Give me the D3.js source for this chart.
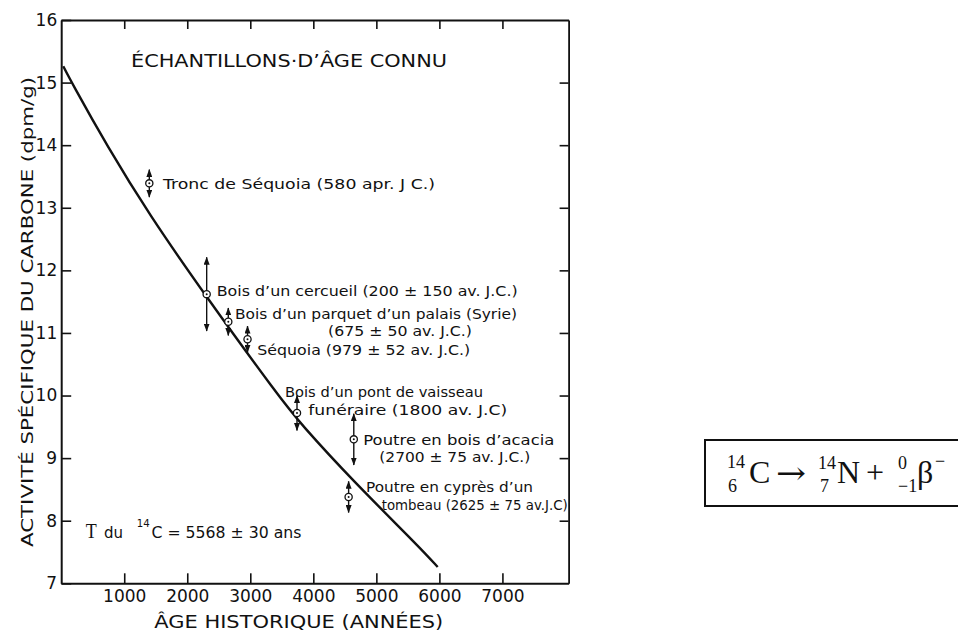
<!DOCTYPE html>
<html>
<head>
<meta charset="utf-8">
<script src="https://cdn.jsdelivr.net/npm/d3@7/dist/d3.min.js"></script>
<style>
  html, body { margin: 0; padding: 0; background: #fff; }
  svg { display: block; }
  text { fill: #111; }
</style>
</head>
<body>
<div id="chart"></div>
<script>
// ---------------- data ----------------
const sampleNames = ["Tronc de Séquoia", "Bois d'un cercueil", "Bois d'un parquet d'un palais",
  "Séquoia", "Bois d'un pont de vaisseau funéraire", "Poutre en bois d'acacia", "Poutre en cyprès d'un tombeau"];
const sampleAge = [1398, 2308, 2651, 2956, 3741, 4642, 4560];
const sampleActivity = [13.39, 11.62, 11.18, 10.90, 9.72, 9.30, 8.38];
const sampleError = [0.22, 0.59, 0.22, 0.21, 0.28, 0.41, 0.25];

const curveAge = [33, 155, 743, 1377, 2297, 3471, 3789, 4634, 5693, 5973];
const curveActivity = [15.26, 15.02, 13.96, 12.92, 11.58, 9.96, 9.56, 8.63, 7.57, 7.26];

const xTickValues = [1000, 2000, 3000, 4000, 5000, 6000, 7000];
const yTickValues = [7, 8, 9, 10, 11, 12, 13, 14, 15, 16];

const titleText = "ÉCHANTILLONS·D’ÂGE  CONNU";
const yLabel = "ACTIVITÉ SPÉCIFIQUE DU CARBONE (dpm/g)";
const xLabel = "ÂGE HISTORIQUE (ANNÉES)";

// ---------------- layout ----------------
const W = 958, H = 632;
const svg = d3.select("#chart").append("svg").attr("width", W).attr("height", H);
svg.append("rect").attr("width", W).attr("height", H).attr("fill", "#fff");

const x = d3.scaleLinear().domain([0, 8050]).range([61.2, 568.6]);
const y = d3.scaleLinear().domain([7, 16]).range([583.3, 20]);

const SANS = "'DejaVu Sans', 'Liberation Sans', sans-serif";
const SERIF = "'Liberation Serif', 'DejaVu Serif', serif";

// arrow marker
const defs = svg.append("defs");
defs.append("marker").attr("id", "arr")
  .attr("markerUnits", "userSpaceOnUse")
  .attr("viewBox", "0 0 8 6").attr("refX", 7.5).attr("refY", 3)
  .attr("markerWidth", 8).attr("markerHeight", 6)
  .attr("orient", "auto")
  .append("path").attr("d", "M0,0 L8,3 L0,6 Z").attr("fill", "#111");

// ---------------- axes ----------------
function styleAxis(g, sw) {
  g.select(".domain").attr("stroke", "#111").attr("stroke-width", sw);
  g.selectAll(".tick line").attr("stroke", "#111").attr("stroke-width", 1.6);
  g.selectAll(".tick text").attr("fill", "#111").attr("font-family", SANS);
}

const gx = svg.append("g").attr("transform", `translate(0,${y(7)})`)
  .call(d3.axisBottom(x).tickValues(xTickValues).tickFormat(d3.format("d"))
    .tickSizeInner(-10).tickSizeOuter(0).tickPadding(7));
styleAxis(gx, 2);
gx.selectAll(".tick text").attr("font-size", 17);

const gxTop = svg.append("g").attr("transform", `translate(0,${y(16)})`)
  .call(d3.axisTop(x).tickValues(xTickValues).tickFormat("")
    .tickSizeInner(-9).tickSizeOuter(0));
styleAxis(gxTop, 1.8);

const gy = svg.append("g").attr("transform", `translate(${x(0)},0)`)
  .call(d3.axisLeft(y).tickValues(yTickValues).tickFormat(d3.format("d"))
    .tickSizeInner(-10).tickSizeOuter(0).tickPadding(4));
styleAxis(gy, 2);
gy.selectAll(".tick text").attr("font-size", 17);

const gyR = svg.append("g").attr("transform", `translate(${x(8050)},0)`)
  .call(d3.axisRight(y).tickValues(yTickValues.slice(1, -1)).tickFormat("")
    .tickSizeInner(-9).tickSizeOuter(0));
styleAxis(gyR, 1.8);

// ---------------- curve ----------------
const curvePts = curveAge.map((a, i) => [a, curveActivity[i]]);
svg.append("path")
  .attr("d", d3.line().x(d => x(d[0])).y(d => y(d[1])).curve(d3.curveBasis)(curvePts))
  .attr("fill", "none").attr("stroke", "#111").attr("stroke-width", 2.4);

// ---------------- samples ----------------
const samples = sampleNames.map((n, i) => ({ name: n, age: sampleAge[i], act: sampleActivity[i], err: sampleError[i] }));
const R = 3.6;
const gs = svg.append("g");
samples.forEach(s => {
  const cx = x(s.age), cy = y(s.act);
  gs.append("line").attr("x1", cx).attr("x2", cx).attr("y1", cy - R).attr("y2", y(s.act + s.err))
    .attr("stroke", "#111").attr("stroke-width", 1.4).attr("marker-end", "url(#arr)");
  gs.append("line").attr("x1", cx).attr("x2", cx).attr("y1", cy + R).attr("y2", y(s.act - s.err))
    .attr("stroke", "#111").attr("stroke-width", 1.4).attr("marker-end", "url(#arr)");
  gs.append("circle").attr("cx", cx).attr("cy", cy).attr("r", R)
    .attr("fill", "#fff").attr("stroke", "#111").attr("stroke-width", 1.3);
  gs.append("circle").attr("cx", cx).attr("cy", cy).attr("r", 1).attr("fill", "#111");
});

// ---------------- texts ----------------
function label(txt, px, py, w, fs, family) {
  const t = svg.append("text").attr("x", px).attr("y", py)
    .attr("font-family", family || SANS).attr("font-size", fs).text(txt);
  if (w) t.attr("textLength", w).attr("lengthAdjust", "spacingAndGlyphs");
  return t;
}

label(titleText, 131, 66.7, 316, 18);
svg.append("text").attr("transform", "translate(33,547) rotate(-90)")
  .attr("font-family", SANS).attr("font-size", 16)
  .attr("textLength", 470).attr("lengthAdjust", "spacingAndGlyphs").text(yLabel);
label(xLabel, 154.3, 628.3, 289, 18);

const annotations = [
  ["Tronc de Séquoia (580 apr. J C.)", 163, 189, 272],
  ["Bois d’un cercueil (200 ± 150 av. J.C.)", 216.7, 295.5, 301],
  ["Bois d’un parquet d’un palais (Syrie)", 235, 319, 282],
  ["(675 ± 50 av. J.C.)", 328, 336, 144],
  ["Séquoia (979 ± 52 av. J.C.)", 257.3, 354.5, 213],
  ["Bois d’un pont de vaisseau", 285, 397, 198],
  ["funéraire (1800 av. J.C)", 308.3, 415, 199],
  ["Poutre en bois d’acacia", 363.3, 444.5, 191],
  ["(2700 ± 75 av. J.C.)", 379.3, 462, 151],
  ["Poutre en cyprès d’un", 366, 492, 167],
  ["tombeau (2625 ± 75 av.J.C)", 381.7, 509.5, 186]
];
annotations.forEach(a => label(a[0], a[1], a[2], a[3], 14));

// half-life note
label("T", 85.7, 538.3, 11, 20, SERIF);
label("du", 104, 538.3, null, 15);
label("14", 136.7, 527, 13, 11);
label("C = 5568 ± 30 ans", 151.5, 538.3, 150, 15);

// ---------------- formula box ----------------
svg.append("rect").attr("x", 705).attr("y", 440).attr("width", 262).attr("height", 66)
  .attr("fill", "none").attr("stroke", "#111").attr("stroke-width", 2);
const big = 32, small = 18;
label("14", 727, 468, null, small, SERIF);
label("6", 728, 491.5, null, small, SERIF);
label("C", 749, 483, null, big, SERIF);
label("→", 776, 484, 30, 32, "'DejaVu Serif', serif");
label("14", 818, 469, null, small, SERIF);
label("7", 820, 491.5, null, small, SERIF);
label("N", 837, 483, null, big, SERIF);
label("+", 866, 483, null, big, SERIF);
label("0", 898, 469, null, small, SERIF);
label("−1", 898, 491.5, null, small, SERIF);
label("β", 917, 483, null, big, SERIF);
label("−", 935, 467, null, small, SERIF);
</script>
</body>
</html>
